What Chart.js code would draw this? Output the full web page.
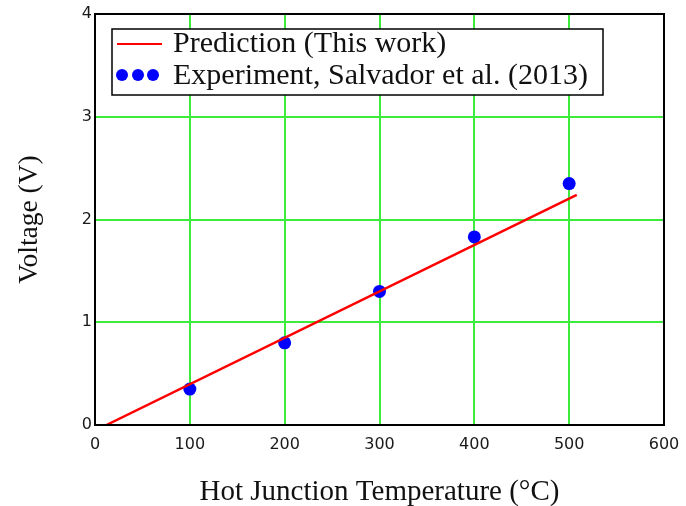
<!DOCTYPE html>
<html>
<head>
<meta charset="utf-8">
<script src="https://cdn.jsdelivr.net/npm/chart.js@4"></script>
<style>
  body { margin: 0; background: #fff; }
  canvas { display: block; }
</style>
</head>
<body>
<canvas id="chart" width="686" height="506"></canvas>
<script>
// values
const expTemp = [100, 200, 300, 400, 500];
const expVolt = [0.35, 0.80, 1.30, 1.83, 2.35];
const predTemp = [12, 508];
const predVolt = [0, 2.24];
const xTicks = [0, 100, 200, 300, 400, 500, 600];
const yTicks = [0, 1, 2, 3, 4];

const serif = '"Liberation Serif", "Times New Roman", serif';
const sans = '"DejaVu Sans", Verdana, sans-serif';

// box round the plot + framed legend inside the plot
const framePlugin = {
  id: 'frame',
  afterDraw(chart) {
    const ctx = chart.ctx;
    const a = chart.chartArea;
    ctx.save();
    ctx.strokeStyle = '#000';
    ctx.lineWidth = 2;
    ctx.strokeRect(a.left, a.top, a.right - a.left, a.bottom - a.top);

    const ds = chart.data.datasets;
    const bx = a.left + 17, by = a.top + 15, bw = 491, bh = 66;
    ctx.fillStyle = '#fff';
    ctx.fillRect(bx, by, bw, bh);
    ctx.lineWidth = 1.5;
    ctx.strokeRect(bx, by, bw, bh);

    ctx.font = '30px ' + serif;
    ctx.fillStyle = '#111';
    ctx.textBaseline = 'middle';
    // line sample
    ctx.strokeStyle = ds[0].borderColor;
    ctx.lineWidth = 2;
    ctx.beginPath();
    ctx.moveTo(bx + 5, by + 15);
    ctx.lineTo(bx + 50, by + 15);
    ctx.stroke();
    ctx.fillText(ds[0].label, bx + 61, by + 15);
    // dots sample
    ctx.fillStyle = ds[1].backgroundColor;
    [10, 26, 41].forEach(dx => {
      ctx.beginPath();
      ctx.arc(bx + dx, by + 46, 6, 0, Math.PI * 2);
      ctx.fill();
    });
    ctx.fillStyle = '#111';
    ctx.fillText(ds[1].label, bx + 61, by + 47);
    ctx.restore();
  }
};

new Chart(document.getElementById('chart'), {
  type: 'scatter',
  data: {
    datasets: [{
      label: 'Prediction (This work)',
      data: predTemp.map((t, i) => ({ x: t, y: predVolt[i] })),
      showLine: true,
      borderColor: '#ff0000',
      backgroundColor: '#ff0000',
      borderWidth: 2.5,
      pointRadius: 0
    }, {
      label: 'Experiment, Salvador et al. (2013)',
      data: expTemp.map((t, i) => ({ x: t, y: expVolt[i] })),
      showLine: false,
      backgroundColor: '#0000ff',
      borderColor: '#0000ff',
      pointRadius: 6.5,
      pointBorderWidth: 0
    }]
  },
  options: {
    responsive: false,
    animation: false,
    layout: { padding: { top: 14, right: 22, left: 0, bottom: 0 } },
    plugins: {
      legend: { display: false },
      tooltip: { enabled: false }
    },
    scales: {
      x: {
        type: 'linear',
        min: 0,
        max: 600,
        afterBuildTicks: s => { s.ticks = xTicks.map(v => ({ value: v })); },
        afterFit: s => { s.height = 81; s.paddingLeft = 0; s.paddingRight = 0; },
        grid: { color: 'rgb(60,235,60)', lineWidth: 2, drawTicks: false },
        border: { display: false },
        ticks: { color: '#1a1a1a', font: { family: sans, size: 16 }, padding: 10, maxRotation: 0 },
        title: {
          display: true,
          text: 'Hot Junction Temperature (°C)',
          color: '#111',
          font: { family: serif, size: 29 },
          padding: { top: 0, bottom: -4 }
        }
      },
      y: {
        type: 'linear',
        min: 0,
        max: 4,
        afterBuildTicks: s => { s.ticks = yTicks.map(v => ({ value: v })); },
        afterFit: s => { s.width = 95; s.paddingTop = 0; s.paddingBottom = 0; },
        grid: { color: 'rgb(60,235,60)', lineWidth: 2, drawTicks: false },
        border: { display: false },
        ticks: { color: '#1a1a1a', font: { family: sans, size: 16 }, padding: 3 },
        title: {
          display: true,
          text: 'Voltage (V)',
          color: '#111',
          font: { family: serif, size: 27.5 },
          padding: { top: 13, bottom: 0 }
        }
      }
    }
  },
  plugins: [framePlugin]
});
</script>
</body>
</html>
